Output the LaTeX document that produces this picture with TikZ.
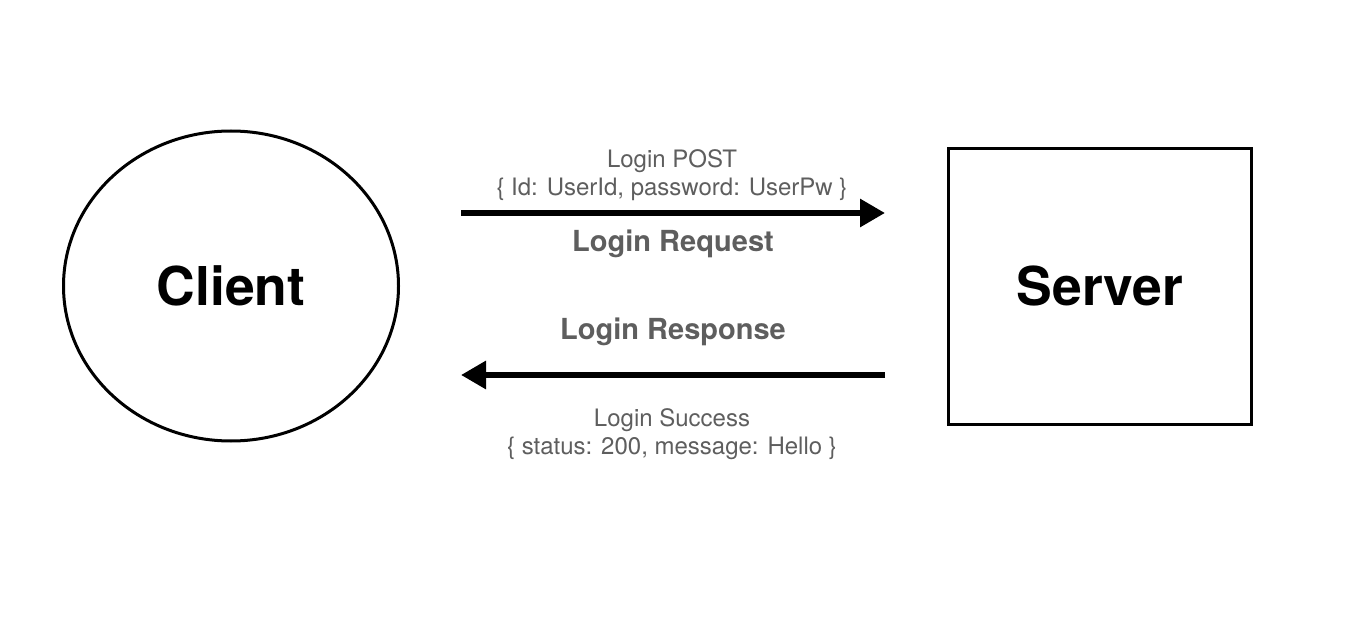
\documentclass[tikz,border=0pt]{standalone}
\usepackage{fontspec}
\setmainfont{TeX Gyre Heros}
\usetikzlibrary{arrows.meta,shapes.geometric}
\definecolor{labelgray}{HTML}{5E5E5E}
\tikzset{
  entity/.style={draw=black, line width=3pt, inner sep=0pt, font=\fontsize{53.5}{60}\selectfont\bfseries},
  flow/.style={line width=6pt, -{Triangle[length=25pt,width=27pt]}},
  title/.style={text=labelgray, inner sep=0pt, anchor=base, font=\fontsize{29}{33}\selectfont\bfseries},
  detail/.style={text=labelgray, inner sep=0pt, align=center, font=\fontsize{24}{27.5}\selectfont}
}
\begin{document}
\begin{tikzpicture}[x=1pt,y=-1pt]
\useasboundingbox (0,0) rectangle (1360,620);
\node[entity, ellipse, minimum width=335pt, minimum height=310pt] (client) at (231,286) {Client};
\node[entity, rectangle, minimum width=303pt, minimum height=276pt] (server) at (1100,286.5) {Server};
\coordinate (reqStart) at (461,213);
\coordinate (reqEnd) at (885,213);
\coordinate (resStart) at (885,375);
\coordinate (resEnd) at (461,375);
\draw[flow] (reqStart) -- (reqEnd);
\draw[flow] (resStart) -- (resEnd);
\node[detail] (reqdetail) at (672,175) {Login POST\\\{ Id: UserId, password: UserPw \}};
\node[title] (reqtitle) at (673,252) {Login Request};
\node[title] (restitle) at (673,340) {Login Response};
\node[detail] (resdetail) at (672,434) {Login Success\\\{ status: 200, message: Hello \}};
\end{tikzpicture}
\end{document}
